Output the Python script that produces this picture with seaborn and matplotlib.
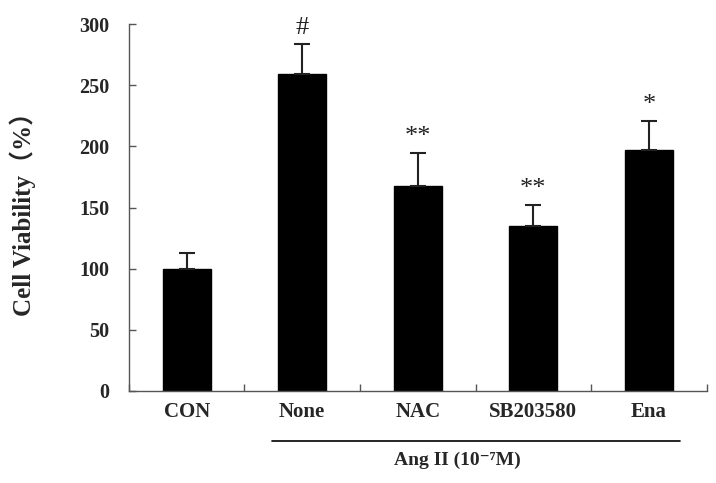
import numpy as np
import pandas as pd
import seaborn as sns
import matplotlib.pyplot as plt
import matplotlib.transforms as mtransforms

# values
groups = ['CON', 'None', 'NAC', 'SB203580', 'Ena']
viability = [100, 259, 168, 135, 197]
sem = [13, 25, 27, 17, 24]
marks = ['', '#', '**', '**', '*']

sns.set_theme(style='ticks')
plt.rcParams['font.family'] = ['Liberation Serif', 'DejaVu Serif']
serif_cjk = ['Liberation Serif', 'Noto Sans CJK SC']

df = pd.DataFrame({'group': groups, 'viability': viability})

fig = plt.figure(figsize=(7.16, 4.83), dpi=100)
ax = fig.add_axes([0.180, 0.1905, 0.807, 0.7595])

sns.barplot(data=df, x='group', y='viability', order=groups, color='black',
            width=0.415, errorbar=None, edgecolor='black', linewidth=1, ax=ax)

pos = np.arange(len(groups))
ax.errorbar(pos, viability, yerr=[np.zeros(len(sem)), sem], fmt='none',
            ecolor='#222222', elinewidth=1.5, capsize=6, capthick=1.5)

for x, v, e, m in zip(pos, viability, sem, marks):
    if m:
        ax.text(x, v + e + 4, m, ha='center', va='bottom', fontsize=19,
                color='#222222')

ax.set_xlim(-0.5, len(groups) - 0.5)
ax.set_ylim(0, 300)
ax.set_yticks([0, 50, 100, 150, 200, 250, 300])
ax.tick_params(axis='y', direction='in', length=5, width=1, color='#555555',
               labelsize=14.5, pad=14)
ax.tick_params(axis='x', which='major', length=0, labelsize=15, pad=8)
ax.set_xticks(np.arange(-0.5, len(groups)), minor=True)
ax.tick_params(axis='x', which='minor', direction='in', length=5, width=1,
               color='#555555')
for lab in ax.get_xticklabels() + ax.get_yticklabels():
    lab.set_fontweight('bold')

ax.set_xlabel('')
ax.set_ylabel('Cell Viability（%）', fontsize=18, fontweight='bold',
              family=serif_cjk, va='center')
ax.yaxis.set_label_coords(-0.183, 0.5)

sns.despine(ax=ax)
for side in ['left', 'bottom']:
    ax.spines[side].set_color('#555555')
    ax.spines[side].set_linewidth(1)

# bracket line for the Ang II treated groups
trans = mtransforms.blended_transform_factory(ax.transData, ax.transAxes)
ax.plot([0.74, 4.27], [-0.136, -0.136], color='black', linewidth=1.2,
        transform=trans, clip_on=False)
ax.text(2.34, -0.19, 'Ang II (10⁻⁷M)', transform=trans, ha='center',
        va='center', fontsize=14, fontweight='bold')

fig.savefig('out.png', dpi=100)
